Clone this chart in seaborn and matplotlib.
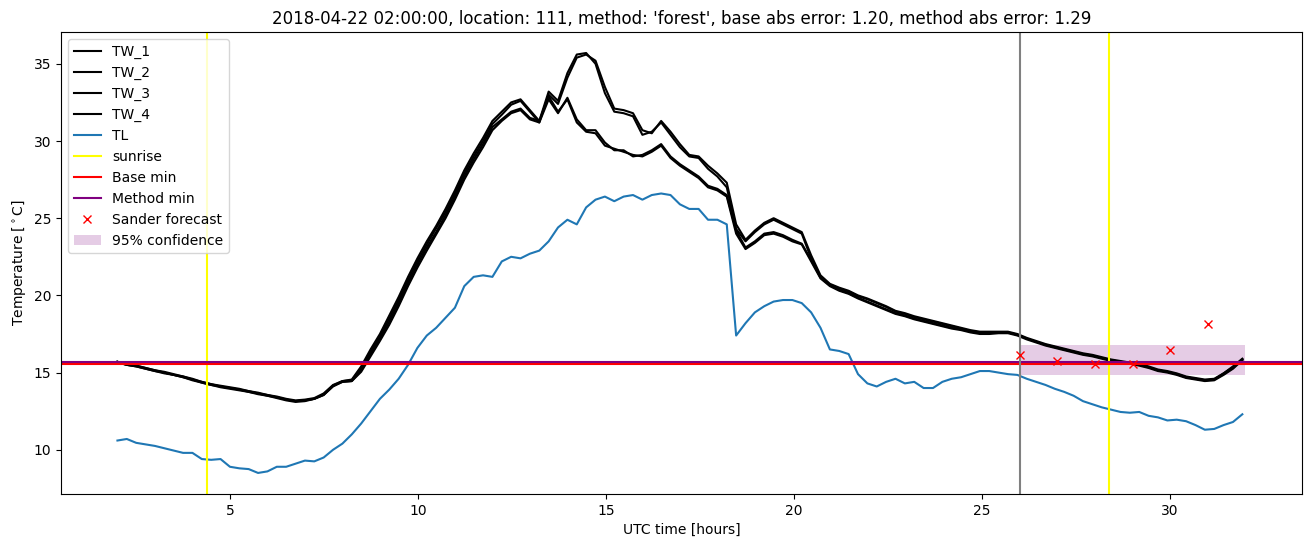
import numpy as np
import matplotlib
matplotlib.use('Agg')
import matplotlib.pyplot as plt
import seaborn as sns

# ============================================================
# DATA
# ============================================================

hours = np.linspace(2, 31.92, 121)  # sampling grid, ~15 minutes

tw_1 = [15.70, 15.50, 15.45, 15.30, 15.15, 15.05, 14.90, 14.75,
        14.60, 14.40, 14.25, 14.15, 14.05, 13.95, 13.80, 13.70,
        13.55, 13.45, 13.30, 13.20, 13.25, 13.35, 13.65, 14.20,
        14.45, 14.55, 15.40, 16.50, 17.50, 18.70, 19.90, 21.20,
        22.40, 23.50, 24.50, 25.60, 26.80, 28.10, 29.20, 30.20,
        31.30, 31.90, 32.50, 32.70, 32.00, 31.30, 33.20, 32.60,
        34.40, 35.60, 35.70, 35.00, 33.10, 31.90, 31.80, 31.60,
        30.40, 30.60, 31.20, 30.40, 29.60, 29.00, 28.90, 28.20,
        27.70, 27.00, 24.30, 23.50, 24.10, 24.60, 24.90, 24.60,
        24.30, 24.00, 22.40, 21.20, 20.70, 20.45, 20.25, 19.95,
        19.75, 19.50, 19.25, 18.95, 18.80, 18.60, 18.45, 18.30,
        18.15, 18.00, 17.85, 17.70, 17.60, 17.60, 17.60, 17.60,
        17.45, 17.20, 17.00, 16.80, 16.65, 16.50, 16.35, 16.20,
        16.10, 15.95, 15.80, 15.70, 15.62, 15.50, 15.35, 15.15,
        15.05, 14.90, 14.70, 14.60, 14.50, 14.55, 14.95, 15.40,
        15.90]

tw_2 = [15.70, 15.55, 15.45, 15.30, 15.15, 15.00, 14.85, 14.75,
        14.55, 14.40, 14.25, 14.10, 14.00, 13.90, 13.80, 13.65,
        13.55, 13.40, 13.25, 13.15, 13.20, 13.30, 13.60, 14.15,
        14.45, 14.50, 15.30, 16.35, 17.35, 18.50, 19.70, 21.00,
        22.20, 23.30, 24.35, 25.40, 26.60, 27.90, 29.00, 30.00,
        31.10, 31.70, 32.35, 32.60, 31.90, 31.20, 33.00, 32.40,
        34.10, 35.40, 35.60, 35.20, 33.50, 32.10, 32.00, 31.80,
        30.70, 30.50, 31.30, 30.60, 29.80, 29.10, 29.00, 28.40,
        27.90, 27.30, 24.60, 23.60, 24.20, 24.70, 25.00, 24.70,
        24.40, 24.10, 22.60, 21.30, 20.75, 20.50, 20.30, 20.00,
        19.80, 19.55, 19.30, 19.00, 18.85, 18.65, 18.50, 18.35,
        18.20, 18.05, 17.90, 17.75, 17.65, 17.65, 17.65, 17.65,
        17.50, 17.25, 17.05, 16.85, 16.70, 16.55, 16.40, 16.25,
        16.15, 16.00, 15.85, 15.75, 15.65, 15.55, 15.40, 15.20,
        15.10, 14.95, 14.75, 14.65, 14.55, 14.60, 14.95, 15.35,
        15.85]

tw_3 = [15.65, 15.50, 15.40, 15.25, 15.10, 15.00, 14.85, 14.70,
        14.55, 14.35, 14.20, 14.10, 14.00, 13.90, 13.75, 13.65,
        13.50, 13.40, 13.25, 13.15, 13.20, 13.30, 13.55, 14.15,
        14.40, 14.45, 15.15, 16.20, 17.20, 18.30, 19.50, 20.80,
        22.00, 23.10, 24.10, 25.20, 26.40, 27.70, 28.80, 29.80,
        30.90, 31.40, 31.90, 32.10, 31.50, 31.30, 32.90, 31.90,
        32.70, 31.20, 30.60, 30.50, 29.70, 29.50, 29.30, 29.10,
        29.00, 29.30, 29.70, 28.90, 28.40, 28.00, 27.60, 27.00,
        26.80, 26.40, 24.00, 23.00, 23.40, 23.90, 24.00, 23.80,
        23.50, 23.30, 22.20, 21.10, 20.60, 20.30, 20.10, 19.80,
        19.55, 19.30, 19.05, 18.80, 18.65, 18.45, 18.30, 18.15,
        18.00, 17.85, 17.75, 17.60, 17.50, 17.50, 17.55, 17.55,
        17.40, 17.15, 16.95, 16.75, 16.60, 16.45, 16.30, 16.15,
        16.05, 15.90, 15.75, 15.65, 15.58, 15.45, 15.30, 15.10,
        15.00, 14.85, 14.65, 14.55, 14.45, 14.50, 14.85, 15.25,
        15.80]

tw_4 = [15.70, 15.50, 15.40, 15.25, 15.10, 14.95, 14.85, 14.70,
        14.50, 14.35, 14.20, 14.05, 13.95, 13.85, 13.75, 13.60,
        13.50, 13.35, 13.20, 13.10, 13.15, 13.30, 13.55, 14.10,
        14.40, 14.45, 15.05, 16.05, 17.05, 18.10, 19.30, 20.60,
        21.80, 22.90, 23.95, 25.00, 26.20, 27.50, 28.60, 29.60,
        30.70, 31.30, 31.80, 32.00, 31.40, 31.20, 32.70, 31.80,
        32.80, 31.40, 30.70, 30.70, 29.90, 29.40, 29.40, 29.00,
        29.10, 29.40, 29.80, 29.00, 28.50, 28.10, 27.70, 27.10,
        26.90, 26.50, 24.20, 23.10, 23.50, 24.00, 24.10, 23.90,
        23.60, 23.35, 22.30, 21.15, 20.65, 20.35, 20.15, 19.85,
        19.60, 19.35, 19.10, 18.85, 18.70, 18.50, 18.35, 18.20,
        18.05, 17.90, 17.80, 17.65, 17.55, 17.55, 17.60, 17.60,
        17.45, 17.20, 17.00, 16.80, 16.65, 16.50, 16.35, 16.20,
        16.10, 15.95, 15.80, 15.70, 15.60, 15.50, 15.35, 15.15,
        15.05, 14.90, 14.70, 14.60, 14.50, 14.55, 14.90, 15.30,
        15.85]

tl = [10.60, 10.70, 10.45, 10.35, 10.25, 10.10, 9.95, 9.80,
      9.80, 9.40, 9.35, 9.40, 8.90, 8.80, 8.75, 8.50,
      8.60, 8.90, 8.90, 9.10, 9.30, 9.25, 9.50, 10.00,
      10.40, 11.00, 11.70, 12.50, 13.30, 13.90, 14.60, 15.50,
      16.60, 17.40, 17.90, 18.55, 19.20, 20.60, 21.20, 21.30,
      21.20, 22.20, 22.50, 22.40, 22.70, 22.90, 23.50, 24.40,
      24.90, 24.60, 25.70, 26.20, 26.40, 26.10, 26.40, 26.50,
      26.20, 26.50, 26.60, 26.50, 25.90, 25.60, 25.60, 24.90,
      24.90, 24.60, 17.40, 18.20, 18.90, 19.30, 19.60, 19.70,
      19.70, 19.50, 18.90, 17.90, 16.50, 16.40, 16.20, 14.90,
      14.30, 14.10, 14.40, 14.60, 14.30, 14.40, 14.00, 14.00,
      14.40, 14.60, 14.70, 14.90, 15.10, 15.10, 15.00, 14.90,
      14.85, 14.60, 14.40, 14.20, 13.95, 13.75, 13.50, 13.15,
      12.95, 12.75, 12.60, 12.45, 12.40, 12.45, 12.20, 12.10,
      11.90, 11.95, 11.85, 11.60, 11.30, 11.35, 11.60, 11.80,
      12.30]

sunrise_hours = [4.38, 28.38]
forecast_start = 26.0
base_min = 15.56
method_min = 15.69

sander_hours = [26, 27, 28, 29, 30, 31]
sander_temp = [16.12, 15.77, 15.56, 15.56, 16.49, 18.12]

conf_hours = [26, 32]
conf_low = [14.82, 14.82]
conf_high = [16.77, 16.77]

title = ("2018-04-22 02:00:00, location: 111, method: 'forest', "
         "base abs error: 1.20, method abs error: 1.29")

# ============================================================
# PLOT
# ============================================================

fig, ax = plt.subplots(figsize=(13.1, 5.47), dpi=100)
fig.subplots_adjust(left=0.0466, right=0.9937, top=0.9415, bottom=0.097)

for name, vals in [('TW_1', tw_1), ('TW_2', tw_2), ('TW_3', tw_3), ('TW_4', tw_4)]:
    sns.lineplot(x=hours, y=vals, color='black', label=name, ax=ax)
sns.lineplot(x=hours, y=tl, color='#1f77b4', label='TL', ax=ax)

for i, h in enumerate(sunrise_hours):
    ax.axvline(h, color='yellow', label='sunrise' if i == 0 else None)
ax.axhline(base_min, color='red', label='Base min')
ax.axhline(method_min, color='purple', label='Method min')
ax.axvline(forecast_start, color='grey')
ax.plot(sander_hours, sander_temp, 'x', color='red', label='Sander forecast')
ax.fill_between(conf_hours, conf_low, conf_high, color='purple', alpha=0.2,
                linewidth=0, label='95% confidence')

ax.set_title(title)
ax.set_xlabel('UTC time [hours]')
ax.set_ylabel(r'Temperature [$^\circ$C]')
ax.legend(loc='upper left')

plt.savefig('out.png', dpi=100)
